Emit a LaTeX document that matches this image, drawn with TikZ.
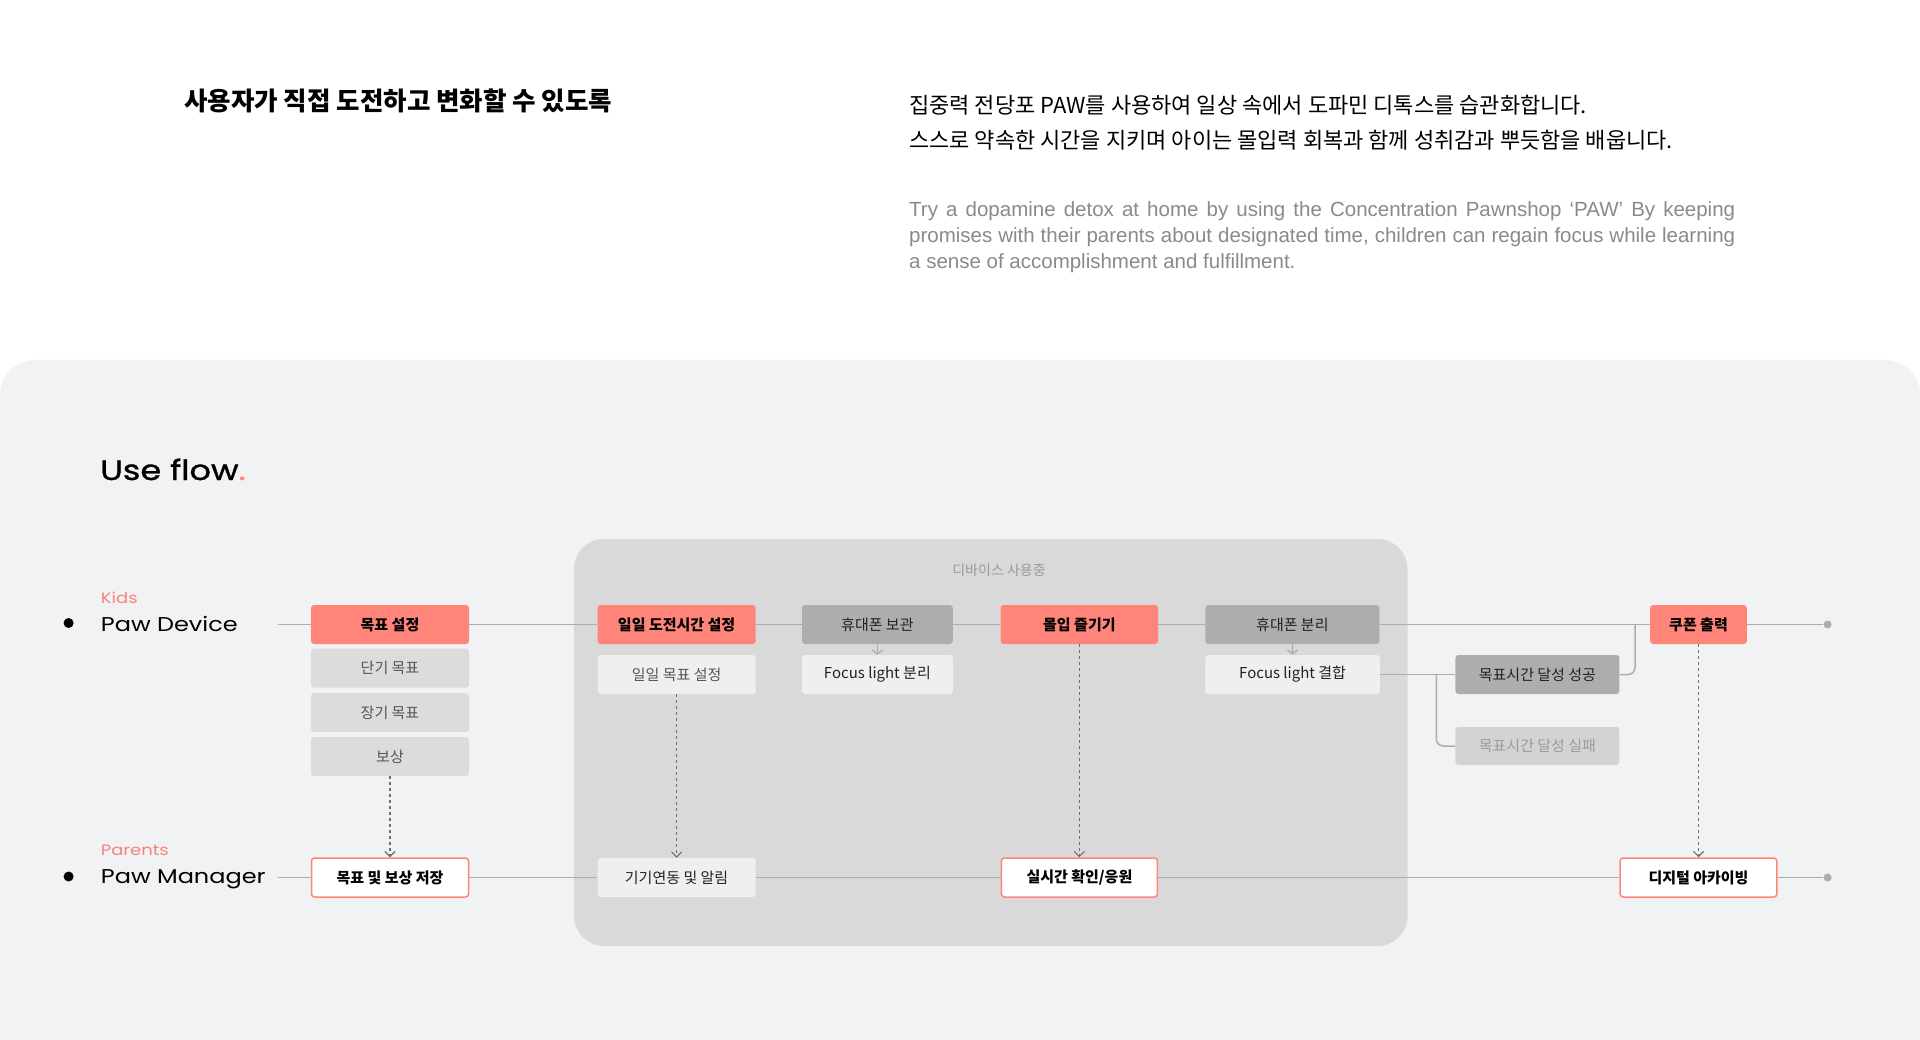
\documentclass[tikz,border=0pt]{standalone}
\usepackage{fontspec}
\usetikzlibrary{arrows.meta}
\setmainfont{Noto Sans CJK KR}
\newfontfamily\kr{Noto Sans CJK KR}
\newfontfamily\enf{Liberation Sans}
\newfontfamily\widef[FakeStretch=1.2]{Poppins}
\newfontfamily\headf[FakeStretch=1.2,FakeBold=1.2]{Poppins}
\definecolor{salmon}{HTML}{FF857A}
\definecolor{salmontxt}{HTML}{F8827A}
\definecolor{pagebg}{HTML}{F1F2F4}
\definecolor{panelbg}{HTML}{D9D9D9}
\definecolor{darkbox}{HTML}{ADADAD}
\definecolor{lightbox}{HTML}{EFEFEF}
\definecolor{midbox}{HTML}{DCDCDC}
\definecolor{failbox}{HTML}{D3D3D3}
\definecolor{flowline}{HTML}{ADADAD}
\definecolor{dashc}{HTML}{6E6E6E}
\definecolor{txtgray}{HTML}{555555}
\definecolor{txtdark}{HTML}{222222}
\definecolor{failtxt}{HTML}{9C9C9C}
\definecolor{engray}{HTML}{8A8A8A}
\definecolor{paneltxt}{HTML}{9A9A9A}
\begin{document}
\begin{tikzpicture}[x=1pt,y=-1pt,
  box/.style={rectangle, rounded corners=3pt, minimum height=39pt, inner sep=0pt, text=txtdark, font=\kr\fontsize{15}{17}\selectfont},
  hot/.style={box, fill=salmon, text=black, font=\kr\bfseries\fontsize{15}{17}\selectfont},
  outl/.style={box, fill=white, draw=salmon, line width=1.5pt, text=black, font=\kr\bfseries\fontsize{15}{17}\selectfont},
  sub/.style={box, fill=midbox, text=txtgray},
  light/.style={box, fill=lightbox},
  dark/.style={box, fill=darkbox},
  failst/.style={box, fill=failbox, text=failtxt, minimum height=38pt},
  flow/.style={draw=flowline, line width=1.5pt},
  dasharr/.style={draw=dashc, line width=1.1pt, dash pattern=on 3pt off 3pt, -{Straight Barb[length=5pt,width=10pt]}},
  smallarr/.style={draw=flowline, line width=1.3pt, -{Straight Barb[length=4pt,width=10pt]}},
  enddot/.style={circle, fill=darkbox, inner sep=0pt, minimum size=8pt},
  bullet/.style={circle, fill=black, inner sep=0pt, minimum size=10pt},
  role/.style={anchor=base west, inner sep=0pt, text=salmontxt, font=\widef\fontsize{15}{18}\selectfont},
  actor/.style={anchor=base west, inner sep=0pt, text=black, font=\widef\fontsize{20}{24}\selectfont}
]
\useasboundingbox (0,0) rectangle (1920,1040);
\fill[white] (0,0) rectangle (1920,1040);
% background panel
\fill[pagebg, rounded corners=35pt] (0,360) rectangle (1920,1120);
% header texts
\node[anchor=west, inner sep=0pt, font=\kr\bfseries\fontsize{25.5}{30}\selectfont] (title) at (184,101) {사용자가 직접 도전하고 변화할 수 있도록};
\node[anchor=west, inner sep=0pt, font=\kr\fontsize{22}{26}\selectfont] (kr1) at (909,105) {집중력 전당포 PAW를 사용하여 일상 속에서 도파민 디톡스를 습관화합니다.};
\node[anchor=west, inner sep=0pt, font=\kr\fontsize{22}{26}\selectfont] (kr2) at (909,140) {스스로 약속한 시간을 지키며 아이는 몰입력 회복과 함께 성취감과 뿌듯함을 배웁니다.};
\node[anchor=base west, inner sep=0pt, text width=826pt, align=justify, text=engray, font=\enf\fontsize{20.5}{25.8}\selectfont] (eng) at (909,216.7) {Try a dopamine detox at home by using the Concentration Pawnshop ‘PAW’ By keeping\linebreak promises with their parents about designated time, children can regain focus while learning\linebreak a sense of accomplishment and fulfillment.};
% use flow heading
\node[anchor=base west, inner sep=0pt, font=\headf\fontsize{28}{32}\selectfont] (uf) at (100,480) {Use flow\textcolor{salmon}{.}};
% device panel
\fill[panelbg, rounded corners=30pt] (574,539) rectangle (1407.5,946);
\node[text=paneltxt, font=\kr\fontsize{14}{16}\selectfont] (paneltitle) at (999,570) {디바이스 사용중};
% actors
\node[bullet] (b1) at (68.6,623) {};
\node[bullet] (b2) at (68.6,876.5) {};
\node[role] (kids) at (100.7,603) {Kids};
\node[actor] (pawd) at (100.7,631) {Paw Device};
\node[role] (parents) at (100.7,855) {Parents};
\node[actor] (pawm) at (100.7,883) {Paw Manager};
\coordinate (sK) at (277.5,624.5);
\coordinate (sM) at (277.5,877.5);
% kids row nodes
\node[hot, minimum width=158pt] (goal) at (390,624.5) {목표 설정};
\node[sub, minimum width=158pt] (short) at (390,668) {단기 목표};
\node[sub, minimum width=158pt] (long) at (390,712.5) {장기 목표};
\node[sub, minimum width=158pt] (reward) at (390,756.5) {보상};
\node[hot, minimum width=158pt] (daily) at (676.6,624.5) {일일 도전시간 설정};
\node[light, text=txtgray, minimum width=158pt] (dgoal) at (676.6,674.5) {일일 목표 설정};
\node[dark, minimum width=150.7pt] (keep) at (877.4,624.5) {휴대폰 보관};
\node[light, minimum width=150.7pt] (fsep) at (877.4,674.5) {Focus light 분리};
\node[hot, minimum width=157.5pt] (enjoy) at (1079.4,624.5) {몰입 즐기기};
\node[dark, minimum width=174pt] (phsep) at (1292.4,624.5) {휴대폰 분리};
\node[light, minimum width=174.5pt] (fjoin) at (1292.6,674.5) {Focus light 결합};
\node[dark, minimum width=164pt] (succ) at (1537.4,674.5) {목표시간 달성 성공};
\node[failst, minimum width=164pt] (fail) at (1537.4,746) {목표시간 달성 실패};
\node[hot, minimum width=96.7pt] (coupon) at (1698.5,624.5) {쿠폰 출력};
\node[enddot] (eK) at (1827.6,624.5) {};
\coordinate (br) at (1436.3,674.5);
\coordinate (mg) at (1635,624.5);
% parents row nodes
\node[outl, minimum width=157pt] (store) at (390,877.5) {목표 및 보상 저장};
\node[light, minimum width=158pt] (link) at (676.6,877.5) {기기연동 및 알림};
\node[outl, minimum width=156pt] (live) at (1079.4,877.5) {실시간 확인/응원};
\node[outl, minimum width=156.6pt] (archive) at (1698.5,877.5) {디지털 아카이빙};
\node[enddot] (eM) at (1827.6,877.5) {};
% flow lines
\draw[flow] (sK) -- (goal);
\draw[flow] (goal) -- (daily);
\draw[flow] (daily) -- (keep);
\draw[flow] (keep) -- (enjoy);
\draw[flow] (enjoy) -- (phsep);
\draw[flow] (phsep) -- (coupon);
\draw[flow] (coupon) -- (eK);
\draw[flow] (sM) -- (store);
\draw[flow] (store) -- (link);
\draw[flow] (link) -- (live);
\draw[flow] (live) -- (archive);
\draw[flow] (archive) -- (eM);
\draw[flow] (fjoin) -- (succ);
\draw[flow, rounded corners=7pt] (br) |- (fail);
\draw[flow, rounded corners=7pt] (succ) -| (mg);
% arrows
\draw[smallarr] (keep) -- (fsep);
\draw[smallarr] (phsep) -- (fjoin);
\draw[dasharr] (reward) -- (store);
\draw[dasharr] (dgoal) -- (link);
\draw[dasharr] (enjoy) -- (live);
\draw[dasharr] (coupon) -- (archive);
\end{tikzpicture}
\end{document}
